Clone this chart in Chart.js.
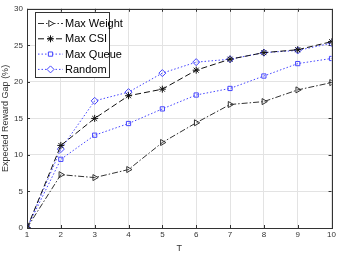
<!DOCTYPE html>
<html>
<head>
<meta charset="utf-8">
<script src="https://cdn.jsdelivr.net/npm/chart.js@4"></script>
<style>
  html, body { margin: 0; padding: 0; background: #fff; }
  #wrap { width: 338px; height: 254px; }
</style>
</head>
<body>
<div id="wrap"><canvas id="gap_chart"></canvas></div>
<script>
const steps = [1, 2, 3, 4, 5, 6, 7, 8, 9, 10];
const max_weight = [0, 7.3, 6.9, 8.0, 11.7, 14.4, 16.9, 17.3, 18.9, 19.9];
const max_csi = [0, 11.3, 15.0, 18.1, 19.0, 21.6, 23.1, 24.0, 24.4, 25.5];
const max_queue = [0, 9.4, 12.7, 14.3, 16.3, 18.2, 19.1, 20.8, 22.5, 23.2];
const random_policy = [0, 10.8, 17.4, 18.6, 21.2, 22.7, 23.1, 24.0, 24.3, 25.3];
const y_ticks = [0, 5, 10, 15, 20, 25, 30];

const font_family = "'Liberation Sans', Arial, sans-serif";
const blue = "rgb(70,70,255)";

function to_points(values) {
    return values.map((v, i) => ({ x: steps[i], y: v }));
}

// matlab style legend box with line samples
const legend_box = {
    id: "legend_box",
    afterDatasetsDraw(chart) {
        const ctx = chart.ctx;
        const x0 = 35.5, y0 = 12.5, w = 74, h = 65;
        ctx.save();
        ctx.fillStyle = "#fff";
        ctx.fillRect(x0, y0, w, h);
        ctx.strokeStyle = "#333";
        ctx.lineWidth = 1;
        ctx.setLineDash([]);
        ctx.strokeRect(x0, y0, w, h);
        chart.data.datasets.forEach((ds, i) => {
            const y = 23.5 + i * 15.3;
            ctx.strokeStyle = ds.borderColor;
            ctx.lineWidth = 1;
            ctx.setLineDash(ds.borderDash);
            ctx.beginPath();
            ctx.moveTo(38, y);
            ctx.lineTo(63, y);
            ctx.stroke();
            ctx.setLineDash([]);
            ctx.fillStyle = "#fff";
            Chart.helpers.drawPoint(ctx, {
                pointStyle: ds.pointStyle,
                rotation: ds.pointRotation || 0,
                radius: ds.pointRadius,
                borderWidth: 1
            }, 50.5, y);
            ctx.fillStyle = "#000";
            ctx.font = "11px " + font_family;
            ctx.textBaseline = "middle";
            ctx.fillText(ds.label, 65, y + 0.5);
        });
        ctx.restore();
    },
    beforeDatasetsDraw(chart) {
        // frame round the plot area
        const a = chart.chartArea;
        const ctx = chart.ctx;
        ctx.save();
        ctx.strokeStyle = "#333";
        ctx.lineWidth = 1;
        ctx.strokeRect(Math.round(a.left) + 0.5, Math.round(a.top) + 0.5,
            Math.round(a.right - a.left), Math.round(a.bottom - a.top));
        // inner tick marks
        const xs = chart.scales.x, ys = chart.scales.y;
        ctx.beginPath();
        steps.forEach(s => {
            const px = Math.round(xs.getPixelForValue(s)) + 0.5;
            ctx.moveTo(px, a.bottom); ctx.lineTo(px, a.bottom - 3);
            ctx.moveTo(px, a.top); ctx.lineTo(px, a.top + 3);
        });
        y_ticks.forEach(t => {
            const py = Math.round(ys.getPixelForValue(t)) + 0.5;
            ctx.moveTo(a.left, py); ctx.lineTo(a.left + 3, py);
            ctx.moveTo(a.right, py); ctx.lineTo(a.right - 3, py);
        });
        ctx.stroke();
        ctx.restore();
    }
};

const chart = new Chart(document.getElementById("gap_chart"), {
    type: "line",
    data: {
        datasets: [{
            label: "Max Weight",
            data: to_points(max_weight),
            borderColor: "#333",
            borderDash: [6, 2, 1.5, 2],
            pointStyle: "triangle",
            pointRotation: 90,
            pointRadius: 3.5
        }, {
            label: "Max CSI",
            data: to_points(max_csi),
            borderColor: "#111",
            borderDash: [6, 3],
            pointStyle: "star",
            pointRadius: 3.5
        }, {
            label: "Max Queue",
            data: to_points(max_queue),
            borderColor: blue,
            borderDash: [1.5, 2],
            pointStyle: "rect",
            pointRadius: 3
        }, {
            label: "Random",
            data: to_points(random_policy),
            borderColor: blue,
            borderDash: [1.5, 2],
            pointStyle: "rectRot",
            pointRadius: 3.5
        }].map(ds => Object.assign(ds, {
            borderWidth: 1,
            pointBorderColor: ds.borderColor,
            pointBackgroundColor: "rgba(255,255,255,0)",
            pointBorderWidth: 1,
            tension: 0
        }))
    },
    options: {
        responsive: true,
        maintainAspectRatio: false,
        animation: false,
        layout: { padding: { top: 6, right: 5, left: 0, bottom: 0 } },
        plugins: { legend: { display: false }, tooltip: { enabled: false } },
        scales: {
            x: {
                type: "linear",
                min: 1,
                max: 10,
                ticks: { stepSize: 1, color: "#333", font: { size: 8, family: font_family }, padding: 2 },
                grid: { color: "#e3e3e3", drawTicks: false },
                border: { display: false },
                title: { display: true, text: "T", color: "#333", font: { size: 9, family: font_family }, padding: { top: 2, bottom: 0 } },
                afterFit(scale) { scale.height = 26; }
            },
            y: {
                min: 0,
                max: 30,
                ticks: { stepSize: 5, color: "#333", font: { size: 8, family: font_family }, padding: 4 },
                grid: { color: "#e3e3e3", drawTicks: false },
                border: { display: false },
                title: { display: true, text: "Expected Reward Gap (%)", color: "#333", font: { size: 9, family: font_family }, padding: { top: 0, bottom: 2 } },
                afterFit(scale) { scale.width = 27; }
            }
        }
    },
    plugins: [legend_box]
});
</script>
</body>
</html>
